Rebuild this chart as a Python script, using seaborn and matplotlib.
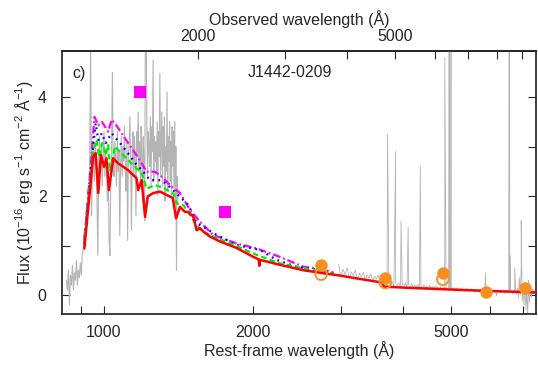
import numpy as np
import matplotlib
matplotlib.use("Agg")
import matplotlib.pyplot as plt
from matplotlib.ticker import FixedLocator, NullFormatter, StrMethodFormatter
import seaborn as sns

redshift = 0.2937

# HST/COS spectrum, rest frame, starts at 840 A with 4 A steps
cos_wave0 = 840
cos_dwave = 4
cos_flux = [0.30, 0.10, 0.50, -0.20, 0.40, 0.20, 0.60, 0.10, 0.45, 0.30,
            0.70, 0.20, 0.50, 0.35, 0.65, 0.40, 0.80,
            0.90, 1.30, 1.10, 1.70, 1.50, 2.10, 1.90, 2.60, 5.20, 1.60, 2.70,
            2.90, 2.30, 3.10, 2.60, 2.00, 0.80, 2.70, 3.20, 2.50, 3.00, 2.20, 2.80, 3.30,
            2.40, 2.90, 2.60, 1.90, 2.50, 1.10, 0.80, 2.30, 3.00, 4.50, 2.60, 2.40, 3.10,
            2.70, 2.20, 3.30, 2.50, 2.90, 1.20, 2.60, 3.20, 2.40, 3.00, 2.70, 3.40,
            2.50, 2.10, 3.10, 1.10, 2.80, 3.10, 3.60, 2.60, 1.30, 2.90, 3.30, 2.40,
            3.20, 2.70, 1.60, 3.30, 2.80, 3.70, 2.50, 3.10, 2.20, 3.40, 2.90, 1.90, 3.20,
            2.60, 1.50, 5.50, 6.00, 3.50, 2.40, 3.30, 3.00, 2.60, 3.60, 2.20, 3.40,
            2.90, 4.75, 2.30, 3.20, 2.70, 3.10, 2.50, 3.50, 2.00, 3.30, 2.80, 4.48, 2.40,
            3.10, 3.70, 2.20, 3.40, 2.60, 3.60, 1.90, 3.00, 2.50, 4.10, 2.10, 3.20, 2.70,
            3.50, 2.30, 3.10, 2.00, 3.40, 2.60, 3.30, 2.20, 3.50, 1.80, 3.00, 0.50, 2.40, 1.90]

# SDSS spectrum, rest frame, starts at 2970 A with 30 A steps
sdss_wave0 = 2970
sdss_dwave = 30
sdss_flux = [0.62, 0.36, 0.52, 0.41, 0.55, 0.33, 0.47, 0.39, 0.50, 0.30,
             0.44, 0.37, 0.46, 0.31, 0.41, 0.34, 0.43, 0.28, 0.38, 0.32,
             0.40, 0.27, 0.35, 0.22, 0.26, 0.18, 0.25, 0.20, 0.27, 0.17,
             0.24, 0.19, 0.25, 0.14, 0.22, 0.18, 0.24, 0.16, 0.21, 0.17,
             0.23, 0.15, 0.20, 0.16, 0.22, 0.13, 0.19, 0.15, 0.21, 0.14,
             0.18, 0.12, 0.19, 0.15, 0.17, 0.11, 0.18, 0.14, 0.16, 0.12,
             0.17, 0.10, 0.16, 0.13, 0.15, 0.11, 0.16, 0.09, 0.14, 0.12,
             0.15, 0.08, 0.14, 0.11, 0.13, 0.09, 0.14, 0.10, 0.12, 0.07,
             0.13, 0.10, 0.12, 0.08, 0.13, 0.09, 0.11, 0.06, 0.12, 0.09,
             0.11, 0.05, 0.12, 0.08, 0.10, 0.07, 0.11, 0.08, 0.10, 0.04,
             0.11, 0.07, 0.09, 0.05, 0.10, 0.06, 0.09, -0.02, 0.10, 0.06,
             0.08, 0.04, 0.09, 0.05, 0.08, 0.03, 0.09, 0.06, 0.08, 0.04,
             0.10, 0.05, 0.08, 0.02, 0.10, 0.04, 0.12, 0.01, 0.14, -0.05,
             0.35, 0.00, 0.55, -0.12, 0.16, -0.20, 0.25, -0.30, 0.12, -0.42,
             0.30, -0.15, 0.20, -0.05, 0.14, 0.02, 0.10, 0.04, 0.09, 0.05]

# emission lines in the SDSS spectrum
line_wave = [3727, 3869, 3968, 4101, 4340, 4861, 4959, 5007, 5876, 6563, 6584, 6725, 6930]
line_peak = [3.25, 2.90, 1.50, 1.37, 2.60, 4.80, 12.0, 30.0, 0.45, 20.0, 0.80, 0.55, 1.50]

# SED models
red_wave = [913, 951, 962, 974, 986, 1001, 1012, 1023, 1044, 1068, 1094, 1119, 1146,
            1163, 1172, 1191, 1210, 1225, 1257, 1297, 1338, 1376, 1397, 1423, 1456,
            1479, 1514, 1537, 1561, 1586, 1636, 1714, 1851, 2000, 2050, 2056, 2062,
            2262, 2523, 2769, 3000, 3300, 3640, 3660, 4000, 5000, 6000, 7000, 7450]
red_flux = [0.94, 2.79, 2.87, 2.06, 2.83, 2.59, 2.76, 2.12, 2.76, 2.66, 2.59, 2.52, 2.42,
            2.36, 2.12, 2.32, 1.58, 1.99, 2.06, 2.09, 2.02, 1.96, 1.55, 1.78, 1.68,
            1.68, 1.58, 1.31, 1.35, 1.28, 1.18, 1.08, 0.95, 0.77, 0.72, 0.59, 0.71,
            0.61, 0.50, 0.44, 0.39, 0.32, 0.25, 0.17, 0.15, 0.11, 0.08, 0.06, 0.05]

green_wave = [913, 930, 951, 967, 977, 992, 1008, 1020, 1028, 1052, 1085, 1128, 1155,
              1191, 1219, 1267, 1326, 1380, 1401, 1445, 1537, 1586, 1661, 1851, 2030,
              2262, 2523, 2900]
green_flux = [1.00, 1.92, 2.93, 3.13, 2.79, 3.07, 2.83, 3.03, 2.50, 3.00, 2.86, 2.69, 2.59,
              2.46, 2.15, 2.22, 2.15, 2.05, 1.85, 1.82, 1.41, 1.28, 1.18, 0.99, 0.81,
              0.64, 0.54, 0.43]

blue_wave = [913, 940, 962, 974, 990, 1008, 1036, 1085, 1119, 1163, 1200, 1238, 1307,
             1369, 1434, 1479, 1537, 1586, 1661, 1851, 2062, 2228, 2444, 2685, 2900]
blue_flux = [1.05, 2.50, 3.47, 3.13, 3.27, 3.07, 3.27, 3.03, 2.86, 2.63, 2.49, 2.32, 2.32,
             2.15, 1.95, 1.82, 1.45, 1.38, 1.25, 1.01, 0.91, 0.71, 0.57, 0.51, 0.44]

magenta_wave = [913, 940, 957, 974, 990, 1005, 1020, 1036, 1052, 1085, 1119, 1155, 1191,
                1219, 1267, 1307, 1369, 1423, 1491, 1561, 1661, 1851, 2030, 2262, 2523,
                2769, 2900]
magenta_flux = [1.10, 2.60, 3.60, 3.43, 3.50, 3.40, 3.30, 3.54, 3.47, 3.27, 3.07, 2.87, 2.66,
                2.49, 2.49, 2.39, 2.19, 2.06, 1.72, 1.48, 1.21, 1.04, 0.94, 0.77, 0.57,
                0.52, 0.45]

# photometry, observed-frame effective wavelengths
galex_wave = [1528, 2271]
galex_flux = [4.10, 1.68]
sdss_phot_wave = [3543, 4770, 6231, 7625, 9134]
sdss_phot_flux = [0.61, 0.34, 0.44, 0.07, 0.135]
sdss_corr_wave = [3543, 4770, 6231]
sdss_corr_flux = [0.42, 0.25, 0.32]

sns.set_theme(style="ticks")
plt.rcParams["font.family"] = ["Liberation Sans", "DejaVu Sans"]
plt.rcParams["mathtext.default"] = "regular"
fs = 11.5

fig = plt.figure(figsize=(5.38, 3.73), dpi=100)
ax = fig.add_axes([0.1152, 0.1582, 0.881, 0.705])

gray = "#b4b4b4"
cos_wave = cos_wave0 + cos_dwave * np.arange(len(cos_flux))
sns.lineplot(x=cos_wave, y=cos_flux, ax=ax, color=gray, lw=0.8,
             estimator=None, sort=False, zorder=1)

sw = np.concatenate([sdss_wave0 + sdss_dwave * np.arange(len(sdss_flux)), line_wave])
sf = np.concatenate([sdss_flux, line_peak])
order = np.argsort(sw)
sns.lineplot(x=sw[order], y=sf[order], ax=ax, color=gray, lw=0.6,
             estimator=None, sort=False, zorder=1)

sns.lineplot(x=magenta_wave, y=magenta_flux, ax=ax, color="#ff00ff", lw=1.6,
             linestyle=(0, (3.5, 1.3, 0.8, 1.3)), estimator=None, sort=False, zorder=2)
sns.lineplot(x=blue_wave, y=blue_flux, ax=ax, color="#0000ff", lw=1.6,
             linestyle=(0, (0.8, 2.0)), estimator=None, sort=False, zorder=3)
sns.lineplot(x=green_wave, y=green_flux, ax=ax, color="#00ee00", lw=1.6,
             linestyle=(0, (2.5, 1.5)), estimator=None, sort=False, zorder=4)
sns.lineplot(x=red_wave, y=red_flux, ax=ax, color="#ff0000", lw=1.8,
             estimator=None, sort=False, zorder=5)

orange = "#f7901e"
sns.scatterplot(x=np.array(galex_wave) / (1 + redshift), y=galex_flux, ax=ax,
                marker="s", s=65, color="#ff00ff", edgecolor="#ff00ff", linewidth=0, zorder=6)
sns.scatterplot(x=np.array(sdss_corr_wave) / (1 + redshift), y=sdss_corr_flux, ax=ax,
                marker="o", s=70, color=orange, facecolor="none", edgecolor=orange,
                linewidth=1.3, zorder=6)
sns.scatterplot(x=np.array(sdss_phot_wave) / (1 + redshift), y=sdss_phot_flux, ax=ax,
                marker="o", s=80, color=orange, edgecolor=orange, linewidth=0, zorder=7)

ax.set_xscale("log")
ax.set_xlim(823, 7420)
ax.set_ylim(-0.384, 4.93)

ax.xaxis.set_major_locator(FixedLocator([1000, 2000, 5000]))
ax.xaxis.set_minor_locator(FixedLocator([900, 3000, 4000, 6000, 7000]))
ax.xaxis.set_major_formatter(StrMethodFormatter("{x:.0f}"))
ax.xaxis.set_minor_formatter(NullFormatter())
ax.yaxis.set_major_locator(FixedLocator([0, 2, 4]))
ax.yaxis.set_minor_locator(FixedLocator([1, 3]))
ax.tick_params(which="both", direction="in", length=6, width=0.8, top=False,
               right=True, labelsize=fs)
ax.tick_params(axis="x", pad=8)
ax.tick_params(axis="y", pad=11)

secax = ax.secondary_xaxis("top", functions=(lambda w: w * (1 + redshift),
                                             lambda w: w / (1 + redshift)))
secax.xaxis.set_major_locator(FixedLocator([2000, 5000]))
secax.xaxis.set_minor_locator(FixedLocator([3000, 4000, 6000, 7000, 8000, 9000]))
secax.xaxis.set_major_formatter(StrMethodFormatter("{x:.0f}"))
secax.xaxis.set_minor_formatter(NullFormatter())
secax.tick_params(which="both", direction="in", length=6, width=0.8, labelsize=fs, pad=5)
secax.set_xlabel("Observed wavelength (Å)", fontsize=fs, labelpad=3)

ax.set_xlabel("Rest-frame wavelength (Å)", fontsize=fs, labelpad=1)
ax.set_ylabel("Flux (10$^{-16}$ erg s$^{-1}$ cm$^{-2}$ Å$^{-1}$)", fontsize=fs, labelpad=2)

ax.text(0.036, 0.916, "c)", transform=ax.transAxes, ha="center", va="center", fontsize=fs)
ax.text(0.481, 0.92, "J1442-0209", transform=ax.transAxes, ha="center", va="center", fontsize=fs)

fig.savefig("out.png", dpi=100)
